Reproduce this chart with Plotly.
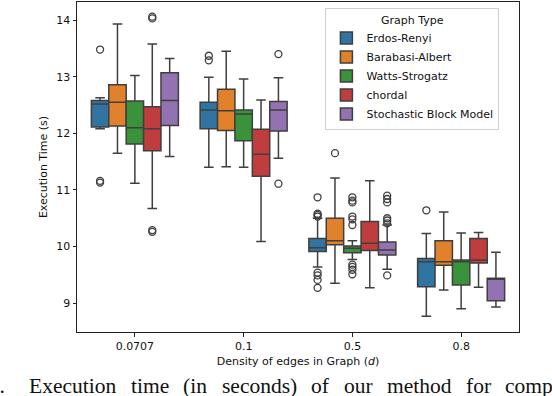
import plotly.graph_objects as go

categories = ["0.0707", "0.1", "0.5", "0.8"]
series_names = ["Erdos-Renyi", "Barabasi-Albert", "Watts-Strogatz", "chordal", "Stochastic Block Model"]
colors = ["#3274a1", "#e1812c", "#3a923a", "#c03d3e", "#9372b2"]

# per series, per category
lower_whisker = [
    [12.08, 11.40, 9.64, 8.77],
    [11.65, 11.41, 9.35, 9.23],
    [11.12, 11.40, 9.77, 8.90],
    [10.67, 10.09, 9.27, 9.28],
    [11.59, 11.56, 9.60, 8.93],
]
q1_vals = [
    [12.11, 12.08, 9.91, 9.29],
    [12.13, 12.05, 10.03, 9.67],
    [11.81, 11.87, 9.89, 9.32],
    [11.69, 11.24, 9.93, 9.71],
    [12.14, 12.04, 9.85, 9.04],
]
median_vals = [
    [12.52, 12.41, 9.98, 9.73],
    [12.55, 12.40, 10.10, 9.73],
    [12.10, 12.34, 9.97, 9.73],
    [12.08, 11.63, 10.06, 9.76],
    [12.58, 12.41, 9.94, 9.43],
]
q3_vals = [
    [12.58, 12.55, 10.14, 9.79],
    [12.86, 12.78, 10.50, 10.10],
    [12.57, 12.41, 10.01, 9.76],
    [12.47, 12.07, 10.44, 10.14],
    [13.07, 12.56, 10.08, 9.44],
]
upper_whisker = [
    [12.63, 12.99, 10.50, 10.23],
    [13.93, 13.45, 11.21, 10.61],
    [13.02, 12.96, 10.10, 10.24],
    [13.58, 12.59, 11.16, 10.25],
    [13.32, 12.98, 10.38, 9.90],
]
outliers = [
    [[13.48, 11.16, 11.13], [13.37, 13.29], [10.87, 10.58, 10.56, 10.53, 9.54, 9.49, 9.41, 9.27], [10.64]],
    [[], [], [11.65], []],
    [[], [], [10.87, 10.81, 10.78, 10.53, 10.48, 10.38, 9.68, 9.64, 9.59, 9.51], []],
    [[14.06, 14.03, 10.29, 10.26], [], [], []],
    [[], [13.40, 11.11], [10.90, 10.84, 10.78, 10.50, 10.46, 10.41, 9.49], []],
]
y_ticks = [9, 10, 11, 12, 13, 14]

caption_words = ["e.", "Execution", "time", "(in", "seconds)", "of", "our", "method", "for", "computing"]
caption_left_px = [-12, 27, 128.7, 181.4, 219.8, 309.6, 342, 385.2, 464.2, 503.8]

LINE = "#3f3f3f"
FONT = "DejaVu Sans"
FS = 11

PLOT_L, PLOT_W = 77, 442.5

fig = go.Figure()
for i, name in enumerate(series_names):
    pts = [lst if len(lst) else [None] for lst in outliers[i]]
    fig.add_trace(go.Box(
        name=name,
        x=categories,
        y=pts,
        q1=q1_vals[i],
        median=median_vals[i],
        q3=q3_vals[i],
        lowerfence=lower_whisker[i],
        upperfence=upper_whisker[i],
        boxpoints="outliers",
        jitter=0,
        pointpos=0,
        fillcolor=colors[i],
        line=dict(color=LINE, width=1.5),
        whiskerwidth=0.55,
        marker=dict(symbol="circle-open", size=7, color=LINE, line=dict(width=1.3)),
    ))

annotations = []
for word, px in zip(caption_words, caption_left_px):
    annotations.append(dict(
        text=word,
        xref="paper", yref="paper", x=(px - PLOT_L) / PLOT_W, y=-0.1627,
        xanchor="left", yanchor="middle", showarrow=False,
        font=dict(family="Liberation Serif", size=21.5, color="#111"),
    ))

fig.update_layout(
    width=552,
    height=396,
    margin=dict(l=PLOT_L, r=552 - PLOT_L - PLOT_W, t=2, b=64.3),
    paper_bgcolor="white",
    plot_bgcolor="white",
    boxmode="group",
    boxgap=0.2,
    boxgroupgap=0.0,
    font=dict(family=FONT, size=FS, color="#111"),
    legend=dict(
        title=dict(text="Graph Type", side="top center", font=dict(size=FS)),
        x=0.562, y=0.981, xanchor="left", yanchor="top",
        bgcolor="rgba(255,255,255,0.8)",
        bordercolor="#d0d0d0", borderwidth=1,
        font=dict(size=FS),
        itemwidth=30,
        tracegroupgap=0,
    ),
    xaxis=dict(
        title=dict(text="Density of edges in Graph (<i>d</i>)", font=dict(size=FS), standoff=5),
        automargin=False,
        showline=True, linecolor="#222", linewidth=1, mirror=True,
        ticks="outside", ticklen=3.5, tickcolor="#222",
        showgrid=False, zeroline=False,
    ),
    yaxis=dict(
        title=dict(text="Execution Time (s)", font=dict(size=FS), standoff=6),
        automargin=False,
        range=[8.49, 14.32],
        tickvals=y_ticks,
        showline=True, linecolor="#222", linewidth=1, mirror=True,
        ticks="outside", ticklen=3.5, tickcolor="#222",
        showgrid=False, zeroline=False,
    ),
    annotations=annotations,
)

fig.write_html(
    "out.html",
    config={"displayModeBar": False},
    post_script="document.body.style.margin='0';document.body.style.overflow='hidden';",
)
